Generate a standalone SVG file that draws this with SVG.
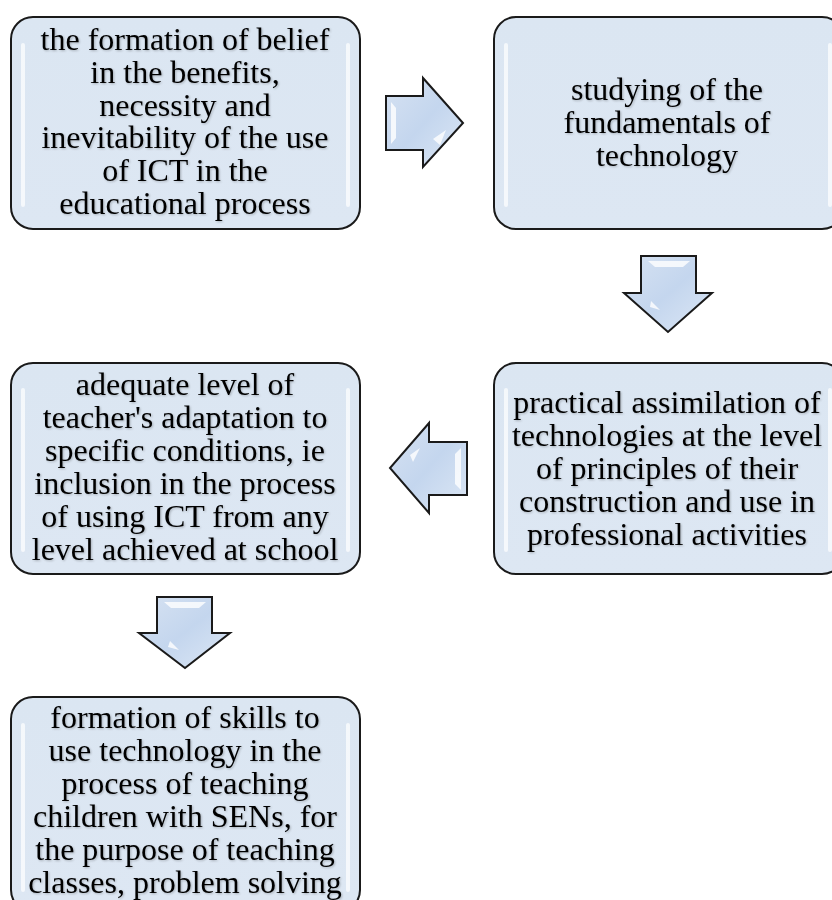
<svg xmlns="http://www.w3.org/2000/svg" width="832" height="900" viewBox="0 0 832 900">
<defs>
<linearGradient id="boxg" x1="0" y1="0" x2="0" y2="1">
<stop offset="0" stop-color="#dbe6f2"/>
<stop offset="1" stop-color="#dde7f3"/>
</linearGradient>
<linearGradient id="arrg" x1="0" y1="0" x2="1" y2="1">
<stop offset="0" stop-color="#d6e2f2"/>
<stop offset="0.5" stop-color="#c4d6ee"/>
<stop offset="1" stop-color="#dce7f5"/>
</linearGradient>
<filter id="ts" x="-5%" y="-5%" width="110%" height="120%">
<feGaussianBlur in="SourceAlpha" stdDeviation="1"/>
<feOffset dx="1.2" dy="1.2" result="b"/>
<feComponentTransfer><feFuncA type="linear" slope="0.25"/></feComponentTransfer>
<feMerge><feMergeNode/><feMergeNode in="SourceGraphic"/></feMerge>
</filter>
</defs>
<style>
.box{fill:url(#boxg);stroke:#1a1a1a;stroke-width:2}
.edge{fill:none;stroke:#ffffff;stroke-width:4;stroke-linecap:round;opacity:0.7}
.arr{fill:url(#arrg);stroke:#1a1a1a;stroke-width:2;stroke-linejoin:miter}
.hi{fill:#ffffff;opacity:0.8}
.t{font-family:"Liberation Serif","Times New Roman",serif;font-size:32px;fill:#000;text-anchor:middle;filter:url(#ts)}
</style>
<rect width="832" height="900" fill="#ffffff"/>

<g id="n1">
<rect class="box" x="11" y="17" width="349" height="212" rx="22"/>
<line class="edge" x1="23" y1="45" x2="23" y2="205"/>
<line class="edge" x1="348" y1="45" x2="348" y2="205"/>
<text class="t"><tspan x="185" y="50">the formation of belief</tspan><tspan x="185" y="83">in the benefits,</tspan><tspan x="185" y="116">necessity and</tspan><tspan x="185" y="148">inevitability of the use</tspan><tspan x="185" y="181">of ICT in the</tspan><tspan x="185" y="214">educational process</tspan></text>
</g>

<g id="n2">
<rect class="box" x="494" y="17" width="350" height="212" rx="22"/>
<line class="edge" x1="506" y1="45" x2="506" y2="205"/>
<line class="edge" x1="830" y1="45" x2="830" y2="205"/>
<text class="t"><tspan x="667" y="100">studying of the</tspan><tspan x="667" y="133">fundamentals of</tspan><tspan x="667" y="166">technology</tspan></text>
</g>

<g id="n3">
<rect class="box" x="494" y="363" width="350" height="211" rx="22"/>
<line class="edge" x1="506" y1="390" x2="506" y2="550"/>
<line class="edge" x1="830" y1="390" x2="830" y2="550"/>
<text class="t"><tspan x="667" y="413">practical assimilation of</tspan><tspan x="667" y="446">technologies at the level</tspan><tspan x="667" y="479">of principles of their</tspan><tspan x="667" y="512">construction and use in</tspan><tspan x="667" y="545">professional activities</tspan></text>
</g>

<g id="n4">
<rect class="box" x="11" y="363" width="349" height="211" rx="22"/>
<line class="edge" x1="23" y1="390" x2="23" y2="550"/>
<line class="edge" x1="348" y1="390" x2="348" y2="550"/>
<text class="t"><tspan x="185" y="395">adequate level of</tspan><tspan x="185" y="428">teacher's adaptation to</tspan><tspan x="185" y="461">specific conditions, ie</tspan><tspan x="185" y="494">inclusion in the process</tspan><tspan x="185" y="527">of using ICT from any</tspan><tspan x="185" y="560">level achieved at school</tspan></text>
</g>

<g id="n5">
<rect class="box" x="11" y="697" width="349" height="215" rx="22"/>
<line class="edge" x1="23" y1="725" x2="23" y2="890"/>
<line class="edge" x1="348" y1="725" x2="348" y2="890"/>
<text class="t"><tspan x="185" y="728">formation of skills to</tspan><tspan x="185" y="761">use technology in the</tspan><tspan x="185" y="794">process of teaching</tspan><tspan x="185" y="827">children with SENs, for</tspan><tspan x="185" y="860">the purpose of teaching</tspan><tspan x="185" y="893">classes, problem solving</tspan></text>
</g>

<g id="connectors">
<g id="a1">
<path class="arr" d="M386,96 L423,96 L423,78 L463,123 L423,167 L423,150 L386,150 Z"/>
<path class="hi" d="M391,102 L396,108 L396,138 L391,144 Z"/>
<path class="hi" d="M433,139 L446,130 L440,145 Z"/>
</g>
<g id="a2">
<path class="arr" d="M641,256 L696,256 L696,293 L712,293 L668,332 L624,293 L641,293 Z"/>
<path class="hi" d="M648,261 L690,261 L683,267 L655,267 Z"/>
<path class="hi" d="M651,301 L660,310 L650,307 Z"/>
</g>
<g id="a3">
<path class="arr" d="M467,442 L429,442 L429,423 L390,468 L429,513 L429,495 L467,495 Z"/>
<path class="hi" d="M461,448 L455,454 L455,484 L461,490 Z"/>
<path class="hi" d="M410,455 L420,448 L413,462 Z"/>
</g>
<g id="a4">
<path class="arr" d="M157,597 L212,597 L212,633 L230,633 L185,668 L139,633 L157,633 Z"/>
<path class="hi" d="M164,602 L206,602 L199,608 L171,608 Z"/>
<path class="hi" d="M170,641 L179,650 L168,647 Z"/>
</g>
</g>
</svg>
